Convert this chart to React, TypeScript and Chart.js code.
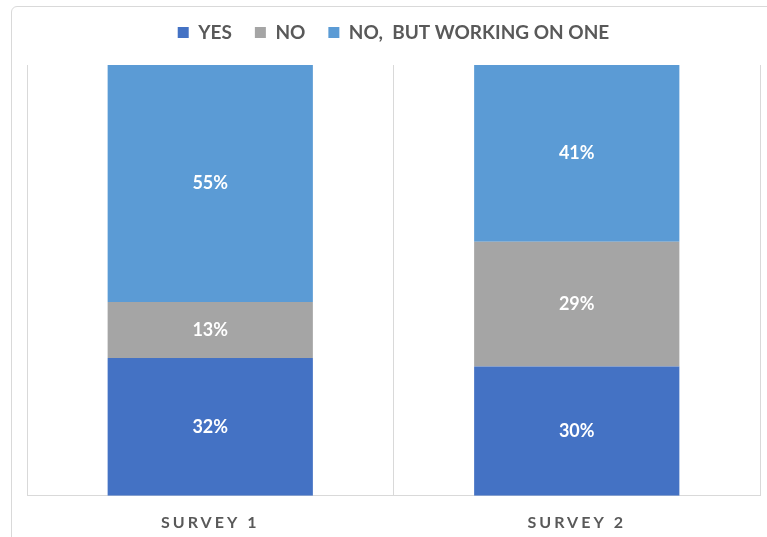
import React, { useEffect, useRef } from "react";
import { Chart, registerables } from "chart.js";

Chart.register(...registerables);

const categories = ["SURVEY 1", "SURVEY 2"];
const seriesNames = ["YES", "NO", "NO,  BUT WORKING ON ONE"];
const yesValues = [32, 30];
const noValues = [13, 29];
const workingValues = [55, 41];
const colors = ["#4472C4", "#A5A5A5", "#5B9BD5"];

const FONT = "Lato, 'Open Sans', sans-serif";

const legendHeightPlugin = {
  id: "legendHeight",
  beforeLayout(chart: any) {
    const lg = chart.legend;
    if (lg && !lg._patched) {
      const orig = lg.fit.bind(lg);
      lg.fit = function () {
        orig();
        this.height = 65;
      };
      lg._patched = true;
    }
  },
};

const valueLabels = {
  id: "valueLabels",
  afterDatasetsDraw(chart: any) {
    const ctx = chart.ctx;
    ctx.save();
    ctx.font = `bold 18px ${FONT}`;
    ctx.fillStyle = "#ffffff";
    ctx.textAlign = "center";
    ctx.textBaseline = "middle";
    chart.data.datasets.forEach((ds: any, i: number) => {
      const meta = chart.getDatasetMeta(i);
      meta.data.forEach((el: any, j: number) => {
        const { x, y, base } = el.getProps(["x", "y", "base"], true);
        ctx.fillText(ds.data[j] + "%", x, (y + base) / 2);
      });
    });
    ctx.restore();
    ctx.letterSpacing = "3px";
  },
  afterDraw(chart: any) {
    chart.ctx.letterSpacing = "0px";
  },
};

export default function App() {
  const ref = useRef<HTMLCanvasElement | null>(null);
  useEffect(() => {
    if (!ref.current) return;
    const chart = new Chart(ref.current, {
      type: "bar",
      data: {
        labels: categories,
        datasets: [
          { label: seriesNames[0], data: yesValues, backgroundColor: colors[0] },
          { label: seriesNames[1], data: noValues, backgroundColor: colors[1] },
          { label: seriesNames[2], data: workingValues, backgroundColor: colors[2] },
        ],
      },
      options: {
        animation: false,
        responsive: true,
        maintainAspectRatio: false,
        datasets: { bar: { categoryPercentage: 0.56, barPercentage: 1 } },
        layout: { padding: { top: 0, left: 27, right: 7, bottom: -12 } },
        plugins: {
          tooltip: { enabled: false },
          legend: {
            position: "top",
            labels: {
              boxWidth: 11,
              boxHeight: 11,
              padding: 23,
              color: "#595959",
              font: { family: FONT, size: 19, weight: "bold" },
            },
          },
        },
        scales: {
          x: {
            stacked: true,
            grid: { display: true, offset: true, color: "#D9D9D9", drawTicks: false },
            border: { display: true, color: "#D9D9D9" },
            ticks: {
              z: 1,
              padding: 17,
              color: "#595959",
              font: { family: FONT, size: 16, weight: "bold" },
            },
          },
          y: {
            stacked: true,
            display: false,
            min: 0,
            max: 100,
          },
        },
      },
      plugins: [legendHeightPlugin, valueLabels],
    } as any);
    return () => chart.destroy();
  }, []);
  return (
    <div style={{ position: "fixed", left: 0, top: 0, width: 767, height: 537, background: "#fff", overflow: "hidden" }}>
      <div
        style={{
          position: "absolute",
          left: 11,
          top: 6,
          width: 780,
          height: 560,
          border: "1px solid #D9D9D9",
          borderRadius: 6,
        }}
      />
      <div style={{ position: "absolute", left: 0, top: 0, width: 767, height: 537 }}>
        <canvas ref={ref} />
      </div>
    </div>
  );
}
